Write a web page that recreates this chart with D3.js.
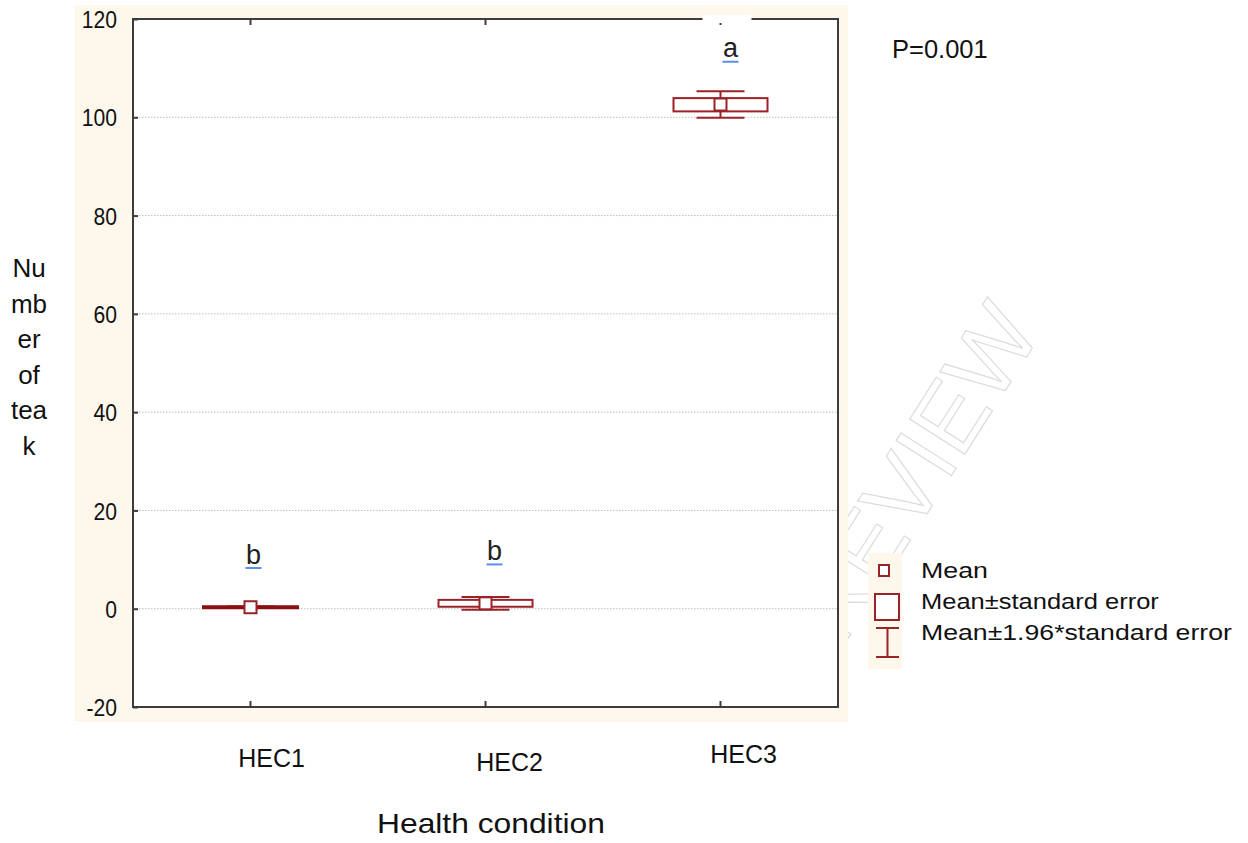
<!DOCTYPE html>
<html>
<head>
<meta charset="utf-8">
<script src="https://cdn.jsdelivr.net/npm/d3@7/dist/d3.min.js"></script>
<style>
  body { margin: 0; background: #fff; }
  text { font-family: "Liberation Sans", Arial, sans-serif; }
</style>
</head>
<body>
<script>
// data
const categories = ["HEC1", "HEC2", "HEC3"];
const means = [0.3, 1.1, 102.6];
const seLow = [0.2, 0.4, 101.2];
const seHigh = [0.4, 1.8, 103.9];
const ciLow = [0.15, -0.2, 99.9];
const ciHigh = [0.45, 2.4, 105.3];
const letters = ["b", "b", "a"];
const yTicks = [-20, 0, 20, 40, 60, 80, 100, 120];
const legendLabels = ["Mean", "Mean\u00b1standard error", "Mean\u00b11.96*standard error"];

const width = 1248, height = 843,
      red = "#9b2226", frame = "#3c3c3c", cream = "#fdf7ec";

const svg = d3.select("body").append("svg")
  .attr("width", width).attr("height", height);

// the source text is a little distorted: scale a text at (x, y) to width w
const scaledText = (parent, x0, y0, size, txt, w) => {
  const t = parent.append("text").attr("font-size", size).attr("fill", "#111").text(txt);
  const sx = w / t.node().getComputedTextLength();
  t.attr("transform", `translate(${x0},${y0}) scale(${sx},1)`);
  return t;
};

// faint watermark behind everything
svg.append("text")
  .attr("transform", "translate(842,648) rotate(-57.6)")
  .attr("font-size", 95)
  .attr("fill", "#fff")
  .attr("stroke", "#dcdcdc")
  .attr("stroke-width", 1.2)
  .text("REVIEW");

// cream panel
svg.append("rect").attr("x", 75).attr("y", 5).attr("width", 773).attr("height", 717).attr("fill", cream);

const x = d3.scaleBand().domain(categories).range([133, 838]);
const y = d3.scaleLinear().domain([-20, 120]).range([707, 19]);

const plot = svg.append("g");
plot.append("rect").attr("x", 133).attr("y", 19).attr("width", 705).attr("height", 688).attr("fill", "#fff");

// dotted gridlines
plot.selectAll(".grid").data(yTicks.filter(d => d > -20 && d < 120)).enter()
  .append("line")
  .attr("x1", 133).attr("x2", 838)
  .attr("y1", d => y(d)).attr("y2", d => y(d))
  .attr("stroke", "#bdbdbd").attr("stroke-dasharray", "1.5,1.5");

// axes
const yAxis = d3.axisLeft(y).tickValues(yTicks).tickSize(-5).tickPadding(16)
  .tickFormat(d => d < 0 ? "-" + Math.abs(d) : d);
svg.append("g").attr("transform", "translate(133,0)").call(yAxis)
  .call(g => g.select(".domain").remove())
  .call(g => g.selectAll("line").attr("stroke", frame).attr("stroke-width", 2))
  .call(g => g.selectAll("text").attr("font-size", 24).attr("fill", "#111")
    .attr("font-family", "Liberation Sans").attr("dy", "0.36em")
    .each(function() {
      const t = d3.select(this);
      t.attr("textLength", this.getComputedTextLength() * 0.88).attr("lengthAdjust", "spacingAndGlyphs");
    }));

const xTop = d3.axisTop(x).tickSize(-6).tickFormat("");
svg.append("g").attr("transform", "translate(0,19)").call(xTop)
  .call(g => g.select(".domain").remove())
  .call(g => g.selectAll("line").attr("stroke", frame).attr("stroke-width", 2));
const xBot = d3.axisBottom(x).tickSize(-6).tickFormat("");
svg.append("g").attr("transform", "translate(0,707)").call(xBot)
  .call(g => g.select(".domain").remove())
  .call(g => g.selectAll("line").attr("stroke", frame).attr("stroke-width", 2));

// frame
svg.append("rect").attr("x", 133).attr("y", 19).attr("width", 705).attr("height", 688)
  .attr("fill", "none").attr("stroke", frame).attr("stroke-width", 2);

// box/whisker marks
const boxW = 94, capW = 48, meanS = 12;
const g = svg.append("g").selectAll("g").data(categories).enter().append("g")
  .attr("transform", d => `translate(${x(d) + x.bandwidth() / 2},0)`);

g.append("line").attr("x1", 0).attr("x2", 0)
  .attr("y1", (d, i) => y(ciHigh[i])).attr("y2", (d, i) => y(ciLow[i]))
  .attr("stroke", red).attr("stroke-width", 2);
g.append("line").attr("x1", -capW / 2).attr("x2", capW / 2)
  .attr("y1", (d, i) => y(ciHigh[i])).attr("y2", (d, i) => y(ciHigh[i]))
  .attr("stroke", red).attr("stroke-width", 2);
g.append("line").attr("x1", -capW / 2).attr("x2", capW / 2)
  .attr("y1", (d, i) => y(ciLow[i])).attr("y2", (d, i) => y(ciLow[i]))
  .attr("stroke", red).attr("stroke-width", 2);
g.append("rect").attr("x", -boxW / 2).attr("width", boxW)
  .attr("y", (d, i) => y(seHigh[i])).attr("height", (d, i) => Math.max(0.5, y(seLow[i]) - y(seHigh[i])))
  .attr("fill", "#fff").attr("stroke", (d, i) => y(seLow[i]) - y(seHigh[i]) < 2 ? "#8a0f12" : red)
  .attr("stroke-width", (d, i) => y(seLow[i]) - y(seHigh[i]) < 2 ? 3 : 2);
g.append("rect").attr("x", -meanS / 2).attr("width", meanS)
  .attr("y", (d, i) => y(means[i]) - meanS / 2).attr("height", meanS)
  .attr("fill", "#fff").attr("stroke", red).attr("stroke-width", 2);

// white gap in top frame behind the letter a, as in the source
svg.append("rect").attr("x", x("HEC3") + x.bandwidth() / 2 - 18).attr("y", 15).attr("width", 49).attr("height", 8).attr("fill", "#fff");

// significance letters with blue underline
const letterDx = [3, 9, 10], letterDy = [43, 37, 34];
const lg = svg.append("g").selectAll("g").data(categories).enter().append("g")
  .attr("transform", (d, i) => `translate(${x(d) + x.bandwidth() / 2 + letterDx[i]},${y(ciHigh[i]) - letterDy[i]})`);
lg.append("text").attr("text-anchor", "middle").attr("font-size", 27)
  .attr("font-family", "DejaVu Sans").attr("fill", "#222")
  .text((d, i) => letters[i]);
lg.append("line").attr("x1", -8).attr("x2", 8).attr("y1", 4.5).attr("y2", 4.5)
  .attr("stroke", "#5b8ee6").attr("stroke-width", 2);

// category labels (slightly staggered like the source)
const catDx = [21, 24, 23], catY = [767, 771, 763];
svg.selectAll(".cat").data(categories).enter().append("text")
  .attr("x", (d, i) => x(d) + x.bandwidth() / 2 + catDx[i])
  .attr("y", (d, i) => catY[i])
  .attr("text-anchor", "middle").attr("font-size", 25).attr("fill", "#111")
  .text(d => d);

scaledText(svg, 377, 833, 27, "Health condition", 228);

// y title broken over lines
const yTitle = ["Nu", "mb", "er", "of", "tea", "k"];
svg.selectAll(".yt").data(yTitle).enter().append("text")
  .attr("x", 29).attr("y", (d, i) => 277 + i * 35.5)
  .attr("text-anchor", "middle").attr("font-size", 26).attr("fill", "#111")
  .text(d => d);

svg.append("text").attr("x", 892).attr("y", 58).attr("font-size", 25.5).attr("fill", "#111").text("P=0.001");

// legend
svg.append("rect").attr("x", 868).attr("y", 553).attr("width", 34).attr("height", 116).attr("fill", cream);
svg.append("rect").attr("x", 879).attr("y", 565).attr("width", 10).attr("height", 11)
  .attr("fill", "#fff").attr("stroke", red).attr("stroke-width", 2);
svg.append("rect").attr("x", 875).attr("y", 594).attr("width", 24).attr("height", 26)
  .attr("fill", "#fff").attr("stroke", red).attr("stroke-width", 2);
const ib = svg.append("g").attr("stroke", red).attr("stroke-width", 2);
ib.append("line").attr("x1", 876).attr("x2", 899).attr("y1", 628).attr("y2", 628);
ib.append("line").attr("x1", 876).attr("x2", 899).attr("y1", 657).attr("y2", 657);
ib.append("line").attr("x1", 887.5).attr("x2", 887.5).attr("y1", 628).attr("y2", 657);

const legW = [67, 238, 311];
legendLabels.forEach((d, i) => scaledText(svg, 921, 578 + i * 31, 22.5, d, legW[i]));
</script>
</body>
</html>
